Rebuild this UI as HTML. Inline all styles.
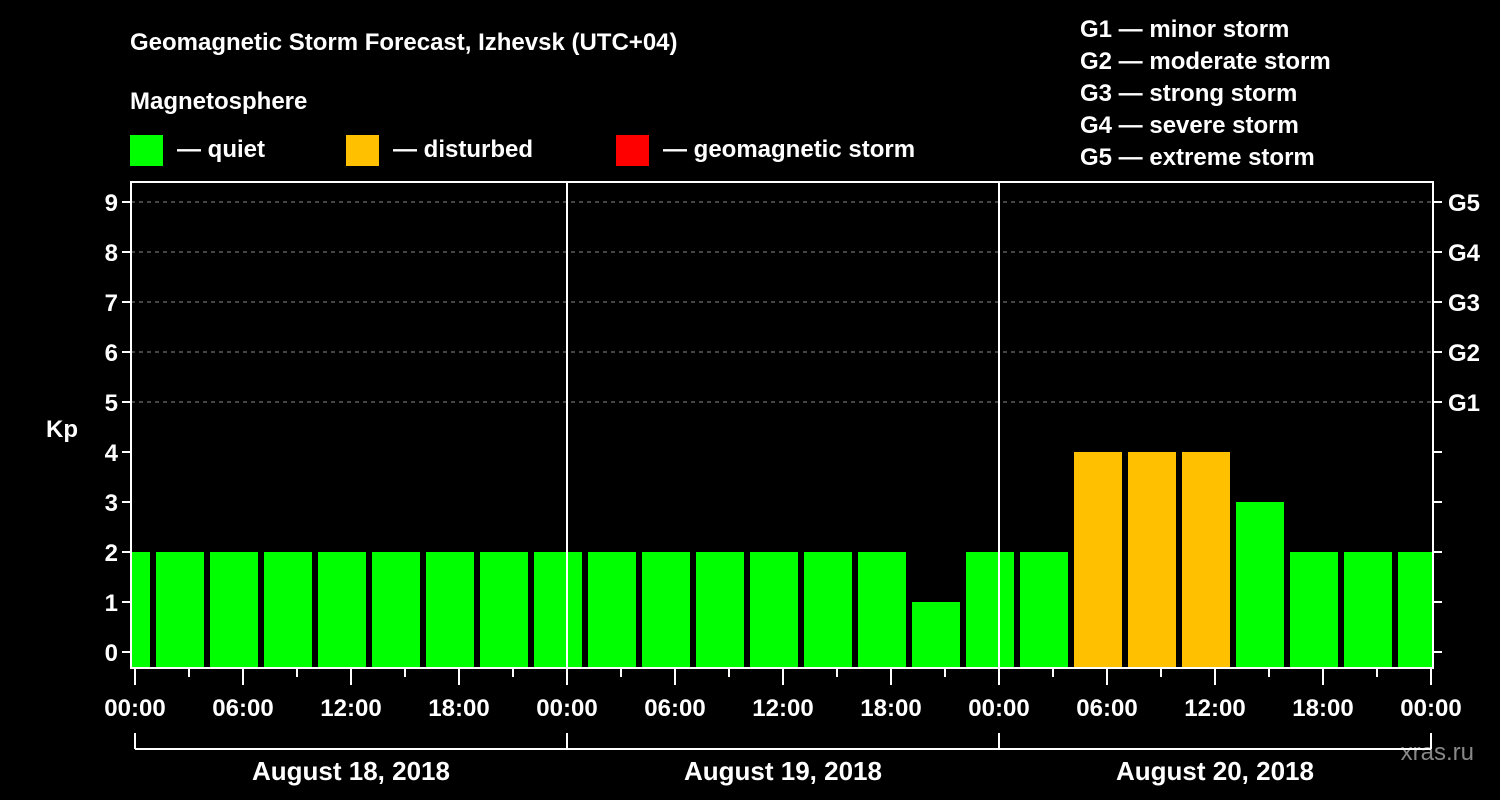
<!DOCTYPE html>
<html><head><meta charset="utf-8"><style>
html,body{margin:0;padding:0;background:#000;}
svg{display:block;font-family:"Liberation Sans",Arial,sans-serif;font-weight:bold;}
</style></head><body>
<svg id="chart" width="1500" height="800" viewBox="0 0 1500 800">
<rect width="1500" height="800" fill="#000"/>
<text x="130" y="50" font-size="24" fill="#fff">Geomagnetic Storm Forecast, Izhevsk (UTC+04)</text>
<text x="130" y="109" font-size="24" fill="#fff">Magnetosphere</text>
<g><rect x="130" y="135" width="33" height="31" fill="#00ff00"/><text x="177" y="157" font-size="24" fill="#fff">— quiet</text></g>
<g><rect x="346" y="135" width="33" height="31" fill="#ffc000"/><text x="393" y="157" font-size="24" fill="#fff">— disturbed</text></g>
<g><rect x="616" y="135" width="33" height="31" fill="#ff0000"/><text x="663" y="157" font-size="24" fill="#fff">— geomagnetic storm</text></g>
<g font-size="24" fill="#fff">
<text x="1080" y="37">G1 — minor storm</text>
<text x="1080" y="69">G2 — moderate storm</text>
<text x="1080" y="101">G3 — strong storm</text>
<text x="1080" y="133">G4 — severe storm</text>
<text x="1080" y="165">G5 — extreme storm</text>
</g>
<text x="62" y="437" font-size="24" fill="#fff" text-anchor="middle">Kp</text>
<text x="1474" y="760" font-size="24" fill="#888" font-weight="normal" text-anchor="end">xras.ru</text>
<g id="plot"></g>
</svg>
<script>
const kpValues=[2,2,2,2,2,2,2,2,2,2,2,2,2,2,2,1,2,2,4,4,4,3,2,2,2];
const startHour=-2; // first 3-hour slot start (hours from Aug 18 00:00)
const dayLabels=["August 18, 2018","August 19, 2018","August 20, 2018"];
const hourLabels=["00:00","06:00","12:00","18:00"];
const gLabels=["G1","G2","G3","G4","G5"];
const kpTicks=[0,1,2,3,4,5,6,7,8,9];

const NS="http://www.w3.org/2000/svg";
const plot=document.getElementById('plot');
const X0=135,PXH=18,L=131,R=1433,T=182,B=668;
const x=h=>X0+h*PXH;
const y=k=>652-50*k;
function mk(tag,attrs,parent){const e=document.createElementNS(NS,tag);for(const k in attrs)e.setAttribute(k,attrs[k]);(parent||plot).appendChild(e);return e;}
const clip=mk('clipPath',{id:'pc'});mk('rect',{x:L,y:T,width:R-L,height:B-T},clip);
// grid
gLabels.forEach((g,i)=>{
 const l=mk('line',{x1:L,x2:R,y1:y(5+i),y2:y(5+i),stroke:'#888','stroke-dasharray':'4 4','stroke-width':1});
 
 
});
// bars
const bg=mk('g',{'clip-path':'url(#pc)'});
kpValues.forEach((v,i)=>{
 const h0=startHour+3*i;
 const col=v>=5?'#ff0000':(v>=4?'#ffc000':'#00ff00');
 const r=mk('rect',{x:x(h0)+3,width:3*PXH-6,y:y(v),height:B-y(v),fill:col},bg);
 
 
});
// day separators
for(let d=1;d<dayLabels.length;d++){
 const l=mk('line',{x1:x(24*d),x2:x(24*d),y1:T,y2:B,stroke:'#fff','stroke-width':2});
 
 
}
// frame
const fr=mk('rect',{x:L,y:T,width:R-L,height:B-T,fill:'none',stroke:'#fff','stroke-width':2});


// y ticks
kpTicks.forEach(k=>{
 mk('line',{x1:L-9,x2:L,y1:y(k),y2:y(k),stroke:'#fff','stroke-width':2});
 mk('line',{x1:R,x2:R+9,y1:y(k),y2:y(k),stroke:'#fff','stroke-width':2});
 const t=mk('text',{x:L-13,y:y(k)+9,'font-size':24,fill:'#fff','text-anchor':'end'});t.textContent=k;
 
 
});
gLabels.forEach((g,i)=>{
 const t=mk('text',{x:1448,y:y(5+i)+9,'font-size':24,fill:'#fff'});t.textContent=g;
 
 
});
// x ticks
const days=dayLabels.length;
for(let h=0;h<=24*days;h+=3){
 const major=h%6===0;
 mk('line',{x1:x(h),x2:x(h),y1:B,y2:major?B+17:B+9,stroke:'#fff','stroke-width':2});
 if(major){
  const t=mk('text',{x:x(h),y:716,'font-size':24,fill:'#fff','text-anchor':'middle'});
  t.textContent=hourLabels[(h/6)%4];
  
  
 }
}
// day bracket
mk('line',{x1:x(0),x2:x(24*days),y1:749,y2:749,stroke:'#fff','stroke-width':2});
for(let d=0;d<=days;d++)mk('line',{x1:x(24*d),x2:x(24*d),y1:733,y2:749,stroke:'#fff','stroke-width':2});
dayLabels.forEach((s,d)=>{
 const t=mk('text',{x:x(24*d+12),y:780,'font-size':26,fill:'#fff','text-anchor':'middle'});t.textContent=s;
 
 
});
</script>
</body></html>
